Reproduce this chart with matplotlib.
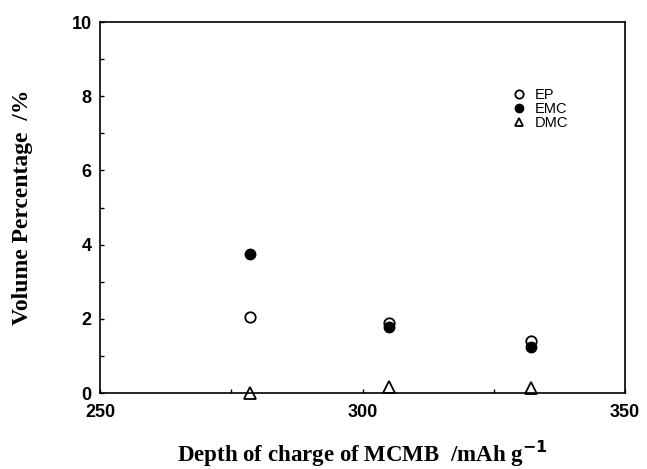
import numpy as np
import matplotlib
matplotlib.use('Agg')
import matplotlib.pyplot as plt

depth = [278.5, 305, 332]
ep = [2.06, 1.90, 1.39]
emc = [3.76, 1.78, 1.25]
dmc = [0.0, 0.17, 0.13]

fig = plt.figure(figsize=(6.47, 4.69), dpi=100)
ax = fig.add_axes([0.1546, 0.162, 0.8114, 0.791])

ax.plot(depth, ep, 'o', mfc='white', mec='black', mew=1.3, ms=7.5, label='EP')
ax.plot(depth, emc, 'o', mfc='black', mec='black', ms=7.5, label='EMC')
ax.plot(depth, dmc, '^', mfc='white', mec='black', mew=1.3, ms=8, label='DMC', clip_on=False)

ax.set_xlim(250, 350)
ax.set_ylim(0, 10)
ax.set_xticks([250, 300, 350])
ax.set_xticks([275, 325], minor=True)
ax.set_yticks([0, 2, 4, 6, 8, 10])
ax.set_yticks([1, 3, 5, 7, 9], minor=True)
ax.tick_params(which='both', direction='in', length=3, width=1)
ax.tick_params(axis='x', pad=8)
ax.tick_params(axis='y', pad=6)
for lab in ax.get_xticklabels() + ax.get_yticklabels():
    lab.set_fontfamily('Liberation Sans')
    lab.set_fontweight('bold')
    lab.set_fontsize(13)
for s in ax.spines.values():
    s.set_linewidth(1.2)

ax.set_xlabel('Depth of charge of MCMB  /mAh g$^{\\mathbf{-1}}$', fontfamily='Liberation Serif',
              fontweight='bold', fontsize=16.5, labelpad=13)
ax.set_ylabel('Volume Percentage  /%', fontfamily='Liberation Serif',
              fontweight='bold', fontsize=17, labelpad=28)

leg = ax.legend(loc='upper left', bbox_to_anchor=(0.765, 0.85), frameon=False,
                prop={'family': 'Liberation Sans', 'size': 10.5},
                handlelength=1, handletextpad=0.6, labelspacing=0.0, markerscale=0.8,
                borderpad=0.2)

fig.savefig('out.png', dpi=100)
